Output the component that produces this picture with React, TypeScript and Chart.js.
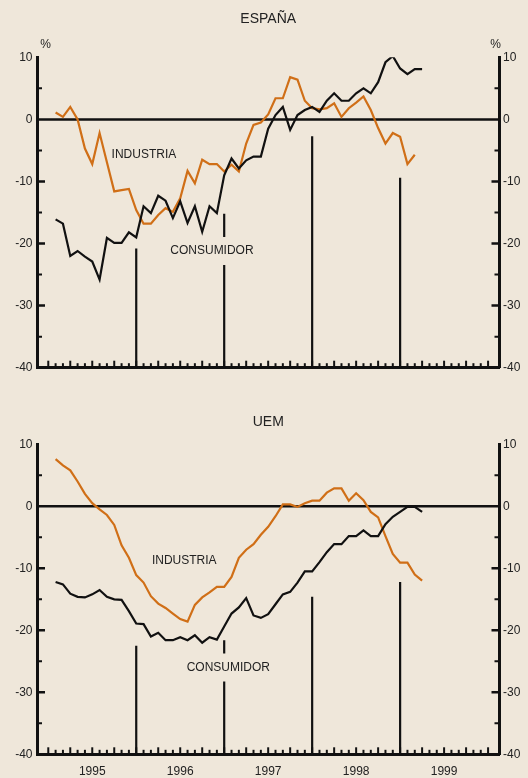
import React, { useEffect, useRef } from 'react';
import { Chart, registerables } from 'chart.js';

Chart.register(...registerables);

const FONT = '"Liberation Sans", Arial, Helvetica, sans-serif';
const BG = '#efe7da';
const ORANGE = '#d06f17';
const INK = '#111111';
const TEXT = '#222222';

// x axis: months counted from January 1995 (= 0)
const START_MONTH = 1;
const X_MIN = -1.47;
const X_MAX = 61.49;
const Y_MIN = -40;
const Y_MAX = 10;

const yearLabels = ['1995', '1996', '1997', '1998', '1999'];
const dividerMonths = [12, 24, 36, 48];

const espConsumidor = [
  -16.1, -16.8, -22.0, -21.2, -22.1, -22.9, -25.8, -19.1, -19.9, -19.9,
  -18.2, -19.0, -14.0, -15.1, -12.3, -13.1, -15.9, -13.2, -16.7, -14.0,
  -18.1, -14.0, -15.1, -9.0, -6.3, -7.9, -6.6, -6.0, -6.0, -1.5,
  0.7, 2.0, -1.7, 0.7, 1.5, 2.0, 1.2, 3.0, 4.2, 3.0,
  3.0, 4.2, 5.0, 4.2, 6.0, 9.2, 10.2, 8.2, 7.3, 8.1, 8.1,
];
const espIndustria = [
  1.1, 0.4, 2.0, 0.0, -4.7, -7.2, -2.2, -6.9, -11.6, -11.4,
  -11.2, -14.6, -16.8, -16.8, -15.4, -14.3, -14.9, -12.7, -8.3, -10.3,
  -6.5, -7.2, -7.2, -8.4, -7.3, -8.4, -3.9, -0.9, -0.5, 0.8,
  3.4, 3.4, 6.8, 6.4, 3.0, 1.8, 1.6, 1.8, 2.6, 0.4,
  1.8, 2.7, 3.7, 1.5, -1.4, -3.9, -2.2, -2.8, -7.2, -5.7,
];
const espDividerTops = [-20.8, -15.2, -2.7, -9.4];

const uemConsumidor = [
  -12.2, -12.6, -14.1, -14.6, -14.7, -14.2, -13.5, -14.6, -15.0, -15.1,
  -16.9, -18.9, -19.0, -21.0, -20.4, -21.6, -21.6, -21.1, -21.6, -20.8,
  -22.0, -21.1, -21.5, -19.4, -17.3, -16.3, -14.8, -17.6, -18.0, -17.4,
  -15.8, -14.2, -13.8, -12.3, -10.5, -10.5, -9.0, -7.4, -6.1, -6.1,
  -4.8, -4.8, -3.9, -4.8, -4.8, -2.9, -1.7, -0.9, -0.1, -0.1, -0.9,
];
const uemIndustria = [
  7.6, 6.6, 5.8, 4.0, 2.0, 0.5, -0.5, -1.4, -3.0, -6.3,
  -8.3, -11.1, -12.3, -14.5, -15.7, -16.4, -17.3, -18.2, -18.6, -15.9,
  -14.7, -13.9, -13.0, -13.0, -11.4, -8.3, -7.0, -6.1, -4.6, -3.3,
  -1.6, 0.3, 0.3, -0.1, 0.5, 0.9, 0.9, 2.2, 2.9, 2.9,
  0.9, 2.1, 1.0, -0.9, -1.8, -4.8, -7.7, -9.1, -9.1, -11.0, -12.0,
];
const uemDividerTops = [-22.5, -21.6, -14.6, -12.2];

type SeriesLabel = { text: string; x: number; y: number; mask: boolean };

const toPoints = (vals: number[]) => vals.map((v, i) => ({ x: START_MONTH + i, y: v }));

const decor = {
  id: 'decor',
  afterDatasetsDraw(chart: any, _args: any, opts: any) {
    const { ctx, chartArea: ca, scales } = chart;
    const xs = scales.x;
    const ys = scales.y;
    ctx.save();
    ctx.strokeStyle = INK;
    ctx.lineCap = 'butt';
    // monthly ticks on the x axis (inward)
    for (let m = 0; m <= 60; m++) {
      const px = xs.getPixelForValue(m);
      const len = m % 3 === 0 ? 7 : 4.5;
      ctx.lineWidth = 2;
      ctx.beginPath();
      ctx.moveTo(px, ca.bottom);
      ctx.lineTo(px, ca.bottom - len);
      ctx.stroke();
    }
    // y ticks every 5 (inward, both sides)
    for (let v = -35; v <= 5; v += 5) {
      if (v === 0) continue;
      const py = ys.getPixelForValue(v);
      const major = v % 10 === 0;
      const len = major ? 7.5 : 4.5;
      ctx.lineWidth = major ? 2.5 : 2;
      ctx.beginPath();
      ctx.moveTo(ca.left, py);
      ctx.lineTo(ca.left + len, py);
      ctx.moveTo(ca.right, py);
      ctx.lineTo(ca.right - len, py);
      ctx.stroke();
    }
    // series labels
    ctx.textAlign = 'center';
    ctx.textBaseline = 'middle';
    ctx.font = `12px ${FONT}`;
    (opts.labels as SeriesLabel[]).forEach((l) => {
      const px = xs.getPixelForValue(l.x);
      const py = ys.getPixelForValue(l.y);
      if (l.mask) {
        const w = ctx.measureText(l.text).width + 2;
        ctx.fillStyle = BG;
        ctx.fillRect(px - w / 2, py - 14, w, 28);
      }
      ctx.fillStyle = TEXT;
      ctx.fillText(l.text, px, py);
    });
    // title
    ctx.font = `14px ${FONT}`;
    ctx.fillStyle = TEXT;
    ctx.fillText(opts.title, (ca.left + ca.right) / 2, opts.titleY);
    // percent signs
    if (opts.percent) {
      ctx.font = `12px ${FONT}`;
      ctx.fillText('%', ca.left + 8, ca.top - 13);
      ctx.fillText('%', ca.right - 3.5, ca.top - 13);
    }
    ctx.restore();
  },
};

type PanelProps = {
  top: number;
  height: number;
  padTop: number;
  xAxisHeight: number;
  title: string;
  titleY: number;
  percent: boolean;
  showYears: boolean;
  consumidor: number[];
  industria: number[];
  dividerTops: number[];
  labels: SeriesLabel[];
};

function Panel(p: PanelProps) {
  const ref = useRef<HTMLCanvasElement | null>(null);
  useEffect(() => {
    if (!ref.current) return;
    const tickFont = { family: FONT, size: 12 };
    const yScale = (position: 'left' | 'right', width: number) => ({
      type: 'linear' as const,
      position,
      min: Y_MIN,
      max: Y_MAX,
      ticks: { stepSize: 10, padding: position === 'left' ? 5 : 4, font: tickFont, color: TEXT },
      grid: { display: false, drawTicks: false },
      border: { display: true, color: INK, width: 3 },
      afterFit: (s: any) => {
        s.width = width;
      },
    });
    const chart = new Chart(ref.current, {
      type: 'line',
      data: {
        datasets: [
          {
            label: 'CONSUMIDOR',
            data: toPoints(p.consumidor),
            borderColor: INK,
            borderWidth: 2.2,
            pointRadius: 0,
            tension: 0,
            fill: false,
          },
          {
            label: 'INDUSTRIA',
            data: toPoints(p.industria),
            borderColor: ORANGE,
            borderWidth: 2.2,
            pointRadius: 0,
            tension: 0,
            fill: false,
          },
          ...dividerMonths.map((m, k) => ({
            label: 'div' + k,
            data: [
              { x: m, y: Y_MIN },
              { x: m, y: p.dividerTops[k] },
            ],
            borderColor: INK,
            borderWidth: 2.2,
            borderCapStyle: 'butt' as const,
            pointRadius: 0,
            fill: false,
          })),
          {
            label: 'zero',
            data: [
              { x: X_MIN, y: 0 },
              { x: X_MAX, y: 0 },
            ],
            borderColor: INK,
            borderWidth: 2.5,
            pointRadius: 0,
            fill: false,
          },
        ],
      },
      options: {
        animation: false,
        responsive: false,
        maintainAspectRatio: false,
        devicePixelRatio: 1,
        events: [],
        layout: { padding: { top: p.padTop, bottom: 0, left: 0, right: 0 } },
        plugins: {
          legend: { display: false },
          tooltip: { enabled: false },
          title: { display: false },
          decor: { title: p.title, titleY: p.titleY, percent: p.percent, labels: p.labels },
        } as any,
        scales: {
          x: {
            type: 'linear',
            position: 'bottom',
            min: X_MIN,
            max: X_MAX,
            afterBuildTicks: (s: any) => {
              s.ticks = yearLabels.map((_, k) => ({ value: 6 + 12 * k }));
            },
            ticks: {
              display: p.showYears,
              autoSkip: false,
              maxRotation: 0,
              padding: 10,
              font: tickFont,
              color: TEXT,
              callback: (v: any) => yearLabels[Math.round((Number(v) - 6) / 12)] ?? '',
            },
            grid: { display: false, drawTicks: false },
            border: { display: true, color: INK, width: 3 },
            afterFit: (s: any) => {
              s.height = p.xAxisHeight;
            },
          },
          y: yScale('left', 37.5),
          y2: yScale('right', 29),
        } as any,
      },
      plugins: [decor],
    });
    return () => chart.destroy();
  }, []);
  return (
    <canvas
      ref={ref}
      width={528}
      height={p.height}
      style={{ position: 'absolute', left: 0, top: p.top, width: 528, height: p.height, display: 'block' }}
    />
  );
}

export default function App() {
  return (
    <div
      style={{
        position: 'fixed',
        left: 0,
        top: 0,
        width: 528,
        height: 778,
        background: BG,
        overflow: 'hidden',
      }}
    >
      <Panel
        top={0}
        height={390}
        padTop={57.3}
        xAxisHeight={22.3}
        title="ESPAÑA"
        titleY={19}
        percent={true}
        showYears={false}
        consumidor={espConsumidor}
        industria={espIndustria}
        dividerTops={espDividerTops}
        labels={[
          { text: 'INDUSTRIA', x: 13.05, y: -5.7, mask: false },
          { text: 'CONSUMIDOR', x: 22.33, y: -21.2, mask: true },
        ]}
      />
      <Panel
        top={390}
        height={388}
        padTop={54.3}
        xAxisHeight={23.7}
        title="UEM"
        titleY={31.7}
        percent={false}
        showYears={true}
        consumidor={uemConsumidor}
        industria={uemIndustria}
        dividerTops={uemDividerTops}
        labels={[
          { text: 'INDUSTRIA', x: 18.55, y: -8.8, mask: false },
          { text: 'CONSUMIDOR', x: 24.56, y: -26.0, mask: true },
        ]}
      />
    </div>
  );
}
